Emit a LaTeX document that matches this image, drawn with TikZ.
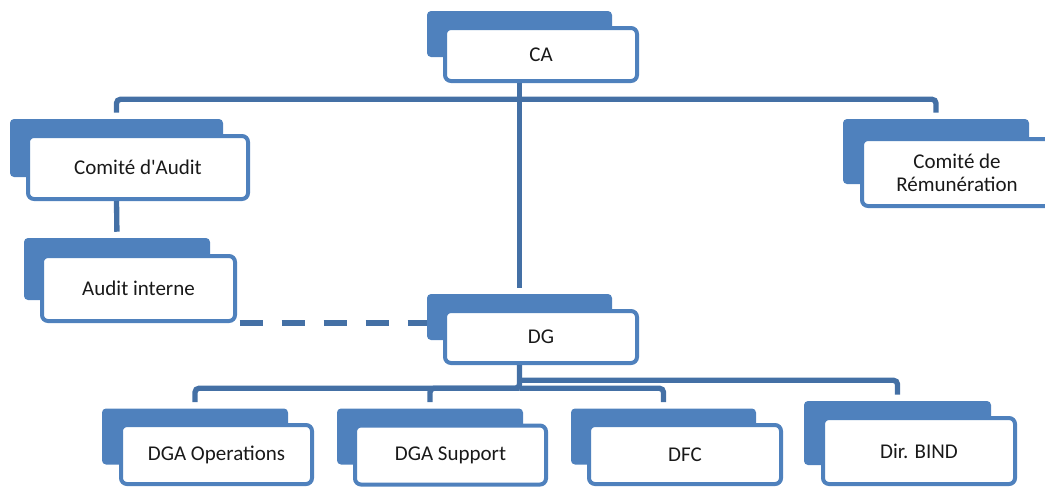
\documentclass[tikz,border=0pt]{standalone}
\usepackage{fontspec}
\setmainfont{Carlito}
\usepackage{tikz}
\definecolor{boxblue}{HTML}{4F81BD}
\definecolor{linkblue}{HTML}{4470A5}

\begin{document}
\begin{tikzpicture}[x=0.75pt,y=0.75pt,yscale=-1,xscale=1,
  back/.style={fill=boxblue, rounded corners=3pt, inner sep=0pt},
  front/.style={draw=boxblue, fill=white, line width=3pt, rounded corners=4.5pt, inner sep=0pt, align=center, text=black!90, font=\fontsize{15.75}{17.5}\selectfont},
  link/.style={draw=linkblue, line width=4pt, rounded corners=3pt, shorten >=4.5pt},
  dashlink/.style={draw=linkblue, line width=4pt, dash pattern=on 17.25pt off 14.25pt}]
%set diagram left start at 0, and has height of 487
\useasboundingbox (0,0) rectangle (1045,487);

% Back box
\node (caB) at (519.5,34) [back, minimum width=138.75pt, minimum height=34.5pt] {};
% Front box
\node (ca) at (541,54.5) [front, minimum width=144pt, minimum height=39.75pt] {CA};
% Back box
\node (cdaB) at (116.5,148) [back, minimum width=159.75pt, minimum height=43.5pt] {};
% Front box
\node (cda) at (138,167.5) [front, minimum width=165pt, minimum height=47.25pt] {Comité d\textquotesingle Audit};
% Back box
\node (cdrB) at (936,151.5) [back, minimum width=139.5pt, minimum height=48.75pt] {};
% Front box
\node (cdr) at (957,172.5) [front, minimum width=142.5pt, minimum height=50.25pt] {Comité de\\Rémunération};
% Back box
\node (aiB) at (117,269) [back, minimum width=139.5pt, minimum height=46.5pt] {};
% Front box
\node (ai) at (138.5,288.5) [front, minimum width=144.75pt, minimum height=48.75pt] {Audit interne};
% Back box
\node (dgB) at (519.5,317) [back, minimum width=138.75pt, minimum height=34.5pt] {};
% Front box
\node (dg) at (541,337) [front, minimum width=144pt, minimum height=39pt] {DG};
% Back box
\node (dgaoB) at (195,436.5) [back, minimum width=139.5pt, minimum height=42pt] {};
% Front box
\node (dgao) at (216.5,454.5) [front, minimum width=143.25pt, minimum height=44.25pt] {DGA Operations};
% Back box
\node (dgasB) at (430,436.5) [back, minimum width=139.5pt, minimum height=42pt] {};
% Front box
\node (dgas) at (450.5,455) [front, minimum width=143.25pt, minimum height=44.25pt] {DGA Support};
% Back box
\node (dfcB) at (663.5,436.5) [back, minimum width=138.75pt, minimum height=42pt] {};
% Front box
\node (dfc) at (685,454.5) [front, minimum width=144pt, minimum height=44.25pt] {DFC};
% Back box
\node (bindB) at (897.5,433) [back, minimum width=140.25pt, minimum height=48pt] {};
% Front box
\node (bind) at (919,451) [front, minimum width=144pt, minimum height=49.5pt] {Dir. BIND};

% Bus points
\path (caB.south) ++(0,42) coordinate (busTop);
\path (dgB.south) ++(0,48) coordinate (busL);
\path (dgB.south) ++(0,40) coordinate (busR);

% Connection
\draw[link] (caB.south |- ca.south) -- (dgB.north);
% Connection
\draw[link] (busTop) -| (cdaB.north);
% Connection
\draw[link] (busTop) -| (cdrB.north);
% Connection
\draw[link] (cdaB.south |- cda.south) -- (aiB.north);
% Connection
\draw[dashlink, shorten <=2pt] (ai.south east) -- (ai.south east -| dgB.west);
% Connection
\draw[link] (dgB.south |- dg.south) -- (busL) -| (dgaoB.north);
% Connection
\draw[link] (busL) -| (dgasB.north);
% Connection
\draw[link] (busL) -| (dfcB.north);
% Connection
\draw[link] (busR) -| (bindB.north);

\end{tikzpicture}
\end{document}
